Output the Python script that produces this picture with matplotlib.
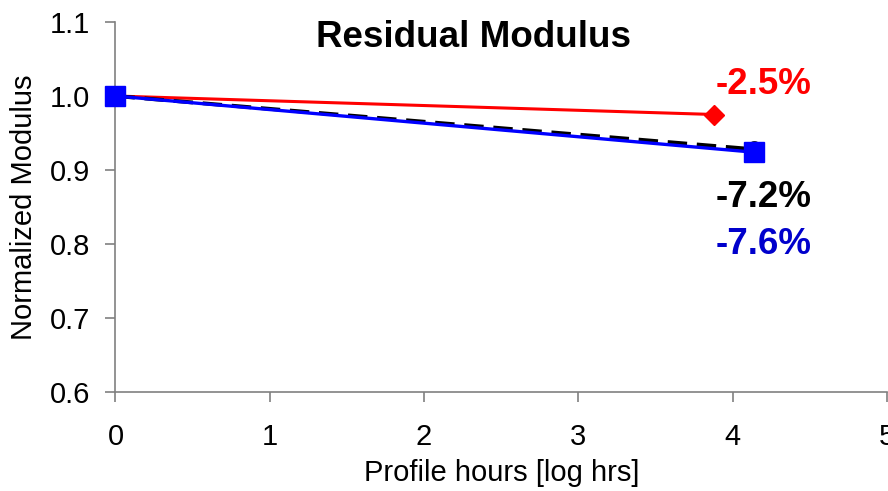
import matplotlib
matplotlib.use('Agg')
import matplotlib.pyplot as plt

plt.rcParams['font.family'] = ['Liberation Sans', 'DejaVu Sans']

# Data (log hours vs normalized modulus)
x_red = [0.0, 3.88]
y_red = [1.0, 0.975]
x_black = [0.0, 4.14]
y_black = [1.0, 0.928]
x_blue = [0.0, 4.14]
y_blue = [1.0, 0.924]

labels = ['-2.5%', '-7.2%', '-7.6%']
label_x = [3.89, 3.89, 3.89]
label_y = [1.015, 0.863, 0.800]
label_colors = ['#ff0000', '#000000', '#0000cc']

fig = plt.figure(figsize=(8.88, 4.91), dpi=100)
ax = fig.add_axes([0.13, 0.2016, 0.869, 0.7536])

ax.plot(x_red, y_red, color='#ff0000', lw=2.2, marker='D', ms=10, clip_on=False, zorder=3)
ax.plot(x_black, y_black, color='black', lw=2.8, ls=(0, (5, 2.5)), marker='o', ms=11, clip_on=False, zorder=4)
ax.plot(x_blue, y_blue, color='#0000ff', lw=2.4, marker='s', ms=14, clip_on=False, zorder=5)

for t, tx, ty, c in zip(labels, label_x, label_y, label_colors):
    ax.text(tx, ty, t, color=c, fontsize=26.5, fontweight='bold', va='center', ha='left')

ax.text(0.464, 0.957, 'Residual Modulus', transform=ax.transAxes, fontsize=26.5,
        fontweight='bold', ha='center', va='center')

ax.set_xlim(0, 5)
ax.set_ylim(0.6, 1.1)
ax.set_xticks([0, 1, 2, 3, 4, 5])
ax.set_yticks([0.6, 0.7, 0.8, 0.9, 1.0, 1.1])
ax.set_yticklabels(['0.6', '0.7', '0.8', '0.9', '1.0', '1.1'])

for s in ['top', 'right']:
    ax.spines[s].set_visible(False)
for s in ['left', 'bottom']:
    ax.spines[s].set_color('#808080')
    ax.spines[s].set_linewidth(1.2)

ax.tick_params(axis='both', direction='out', length=7, width=1.2, color='#808080', labelsize=21)
ax.tick_params(axis='x', pad=15)
ax.tick_params(axis='y', pad=11)

ax.set_xlabel('Profile hours [log hrs]', fontsize=21, labelpad=6)
ax.set_ylabel('Normalized Modulus', fontsize=21, labelpad=9)

fig.savefig('out.png', dpi=100)
